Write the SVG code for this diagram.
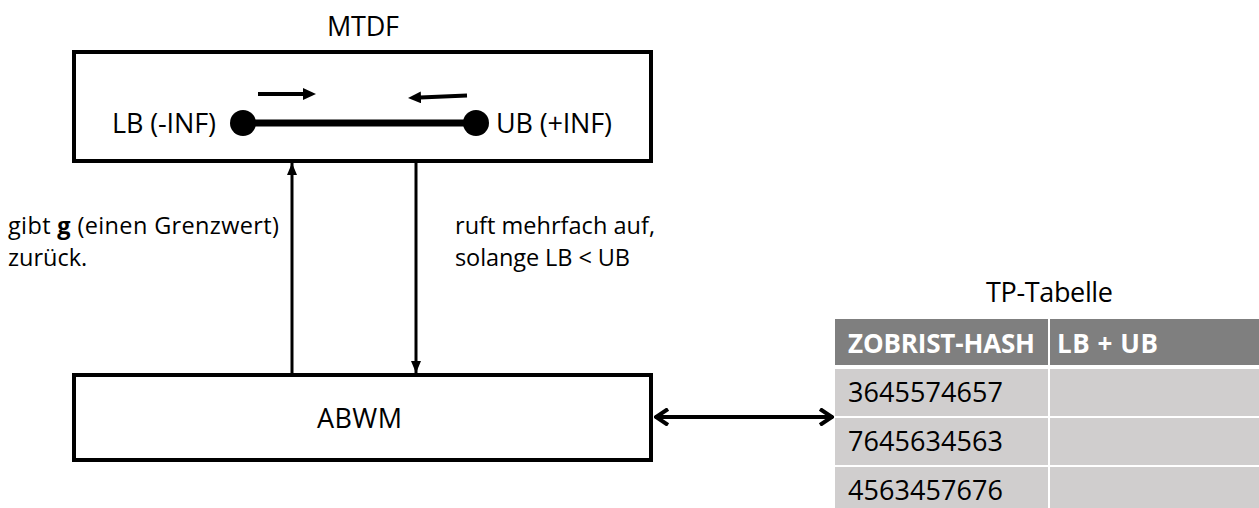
<svg xmlns="http://www.w3.org/2000/svg" width="1259" height="508" viewBox="0 0 1259 508">
<style>
.t{font-family:"Open Sans","Liberation Sans",sans-serif;fill:#000;font-size:27px}
.s{font-size:23.5px}
.box{fill:#fff;stroke:#000;stroke-width:4}
.ln{stroke:#000;stroke-width:3;fill:none}
.hd{fill:#7f7f7f}
.cell{fill:#d0cece}
.ht{font-family:"Open Sans","Liberation Sans",sans-serif;font-weight:bold;fill:#fff;font-size:26px}
</style>
<defs>
<marker id="ah" viewBox="0 0 12 10" refX="12" refY="5" markerWidth="12" markerHeight="10" markerUnits="userSpaceOnUse" orient="auto">
<path d="M0,0 L12,5 L0,10 z" fill="#000"/>
</marker>
<marker id="ah2" viewBox="0 0 13 12" refX="1" refY="6" markerWidth="13" markerHeight="12" markerUnits="userSpaceOnUse" orient="auto">
<path d="M0,0 L13,6 L0,12 z" fill="#000"/>
</marker>
<marker id="op" viewBox="0 0 16 18" refX="15" refY="9" markerWidth="16" markerHeight="18" markerUnits="userSpaceOnUse" orient="auto-start-reverse">
<path d="M2,1 L14,9 L2,17" fill="none" stroke="#000" stroke-width="4"/>
</marker>
</defs>

<text class="t" x="327" y="36" textLength="72">MTDF</text>

<g id="mtdf">
<rect class="box" x="74" y="52" width="577" height="109"/>
<text class="t" x="112" y="133" textLength="104">LB (-INF)</text>
<text class="t" x="496" y="133" textLength="116">UB (+INF)</text>
<line x1="243" y1="123" x2="476" y2="123" stroke="#000" stroke-width="7"/>
<circle cx="243" cy="123" r="13" fill="#000"/>
<circle cx="476" cy="123" r="13" fill="#000"/>
<line x1="258" y1="94" x2="304" y2="94" stroke="#000" stroke-width="4" marker-end="url(#ah2)"/>
<line x1="467" y1="95.5" x2="420" y2="97.5" stroke="#000" stroke-width="4" marker-end="url(#ah2)"/>
</g>

<g id="abwm">
<rect class="box" x="74" y="375" width="577" height="85"/>
<text class="t" x="317" y="428" textLength="85">ABWM</text>
</g>

<g id="tp-tabelle">
<text class="t" x="986" y="302" textLength="127">TP-Tabelle</text>
<rect class="hd" x="835" y="319" width="213" height="46"/>
<rect class="hd" x="1050" y="319" width="209" height="46"/>
<rect class="cell" x="835" y="369" width="213" height="47"/>
<rect class="cell" x="1050" y="369" width="209" height="47"/>
<rect class="cell" x="835" y="418" width="213" height="47"/>
<rect class="cell" x="1050" y="418" width="209" height="47"/>
<rect class="cell" x="835" y="467" width="213" height="41"/>
<rect class="cell" x="1050" y="467" width="209" height="41"/>
<text class="ht" x="848" y="353" textLength="187">ZOBRIST-HASH</text>
<text class="ht" x="1057" y="353" textLength="101">LB + UB</text>
<text class="t" x="848" y="402" textLength="155">3645574657</text>
<text class="t" x="848" y="451" textLength="155">7645634563</text>
<text class="t" x="848" y="500" textLength="155">4563457676</text>
</g>

<g id="connectors">
<line class="ln" x1="292" y1="373" x2="292" y2="163" marker-end="url(#ah)"/>
<line class="ln" x1="416" y1="163" x2="416" y2="373" marker-end="url(#ah)"/>
<line x1="655" y1="417" x2="833" y2="417" stroke="#000" stroke-width="4" marker-start="url(#op)" marker-end="url(#op)"/>
<text class="t s"><tspan x="8" y="234" textLength="271">gibt <tspan font-weight="bold">g</tspan> (einen Grenzwert)</tspan><tspan x="8" y="266">zurück.</tspan></text>
<text class="t s"><tspan x="455" y="234" textLength="200">ruft mehrfach auf,</tspan><tspan x="455" y="266" textLength="175">solange LB &lt; UB</tspan></text>
</g>
</svg>
